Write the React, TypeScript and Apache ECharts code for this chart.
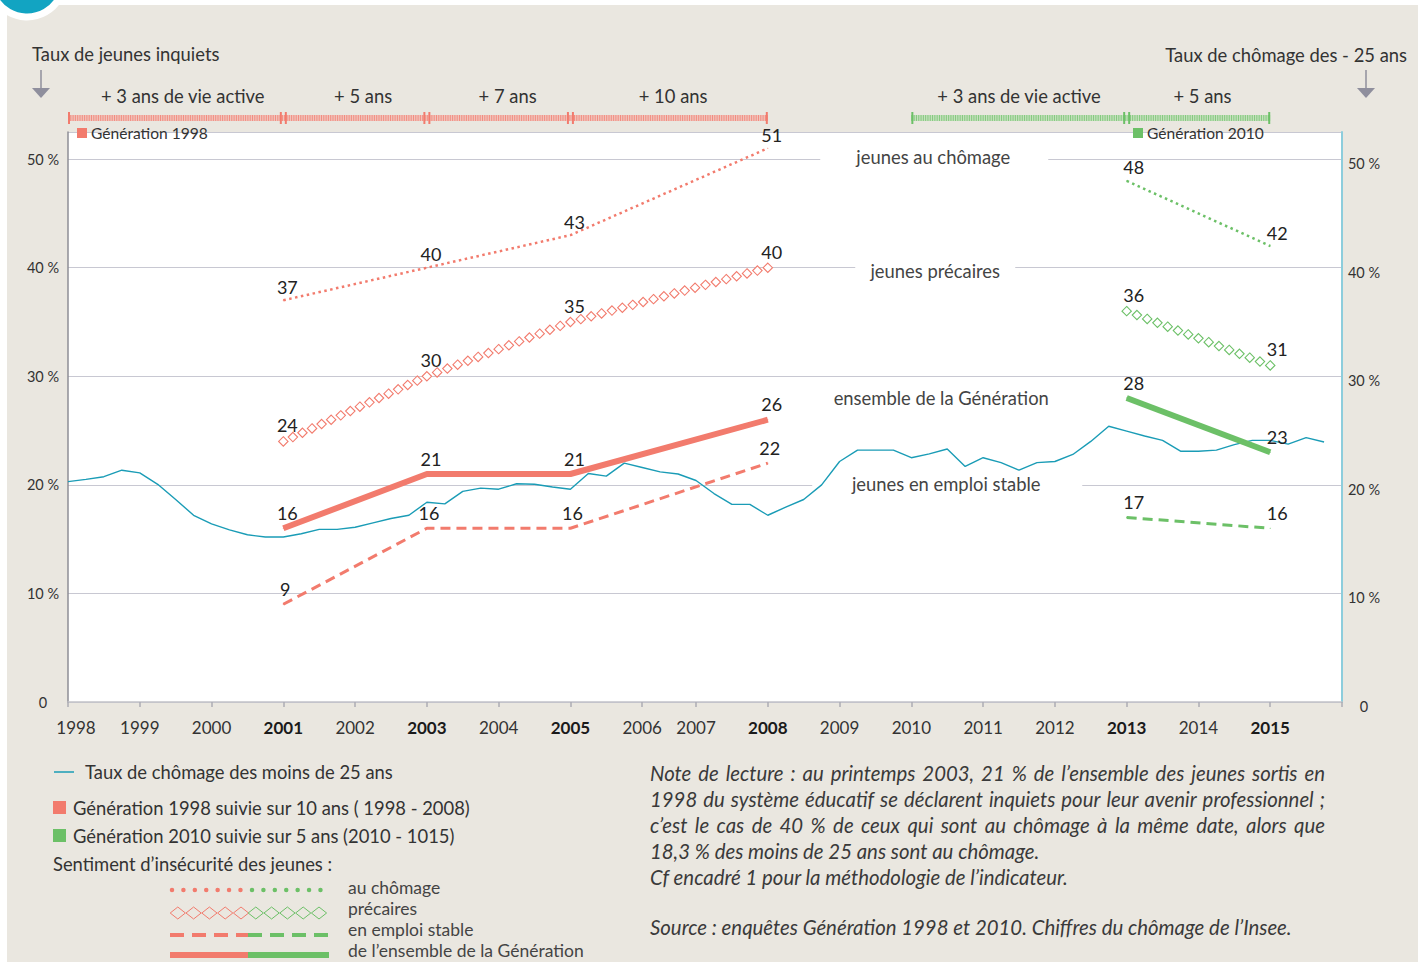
import React, { useEffect, useRef } from "react";
import * as echarts from "echarts";

// ---------- DATA ----------
const YEARS = ["1998","1999","2000","2001","2002","2003","2004","2005","2006","2007","2008","2009","2010","2011","2012","2013","2014","2015","2016"];
const QUARTERS_PER_YEAR = [4,4,4,4,4,4,4,4,3,4,4,4,4,4,4,4,4,4,1];

// Taux de chômage des moins de 25 ans (trimestriel, %)
const UNEMPLOYMENT_U25 = [
  20.3, 20.5, 20.75, 21.35,
  21.1, 20.05, 18.65, 17.2,
  16.4, 15.85, 15.4, 15.2,
  15.2, 15.5, 15.9, 15.9,
  16.1, 16.5, 16.9, 17.2,
  18.4, 18.25, 19.4, 19.7,
  19.6, 20.1, 20.05, 19.8,
  19.6, 21.05, 20.8, 22.0,
  21.6, 21.2, 21.0,
  20.4, 19.2, 18.2, 18.2,
  17.2, 17.95, 18.65, 20.0,
  22.15, 23.2, 23.2, 23.2,
  22.5, 22.85, 23.3, 21.7,
  22.5, 22.05, 21.35, 22.05,
  22.15, 22.8, 24.0, 25.4,
  24.95, 24.5, 24.1, 23.1,
  23.1, 23.2, 23.7, 24.1,
  24.1, 23.75, 24.35, 23.95,
];

const GEN1998_YEARS = ["2001", "2003", "2005", "2008"];
const GEN1998_CHOMAGE = [37, 40, 43, 51];
const GEN1998_PRECAIRES = [24, 30, 35, 40];
const GEN1998_ENSEMBLE = [16, 21, 21, 26];
const GEN1998_STABLE = [9, 16, 16, 22];

const GEN2010_YEARS = ["2013", "2015"];
const GEN2010_CHOMAGE = [48, 42];
const GEN2010_PRECAIRES = [36, 31];
const GEN2010_ENSEMBLE = [28, 23];
const GEN2010_STABLE = [17, 16];

const GEN1998_SPAN = ["1998", "2008"];
const GEN1998_STEPS = ["2001", "2003", "2005"];
const GEN1998_STEP_LABELS = ["+ 3 ans de vie active", "+ 5 ans", "+ 7 ans", "+ 10 ans"];
const GEN2010_SPAN = ["2010", "2015"];
const GEN2010_STEPS = ["2013"];
const GEN2010_STEP_LABELS = ["+ 3 ans de vie active", "+ 5 ans"];

const Y_TICKS = [0, 10, 20, 30, 40, 50];

const LINE_STYLE_LEGEND = ["au chômage", "précaires", "en emploi stable", "de l’ensemble de la Génération"];

const NOTE_LINES = [
  "Note de lecture : au printemps 2003, 21 % de l’ensemble des jeunes sortis en",
  "1998 du système éducatif se déclarent inquiets pour leur avenir professionnel ;",
  "c’est le cas de 40 % de ceux qui sont au chômage à la même date, alors que",
  "18,3 % des moins de 25 ans sont au chômage.",
  "Cf encadré 1 pour la méthodologie de l’indicateur.",
  "",
  "Source : enquêtes Génération 1998 et 2010. Chiffres du chômage de l’Insee.",
];
const NOTE_JUSTIFIED = [true, true, true, false, false, false, false];

// ---------- STYLE ----------
const RED = "#F27B6D";
const RED_LIGHT = "#F5A79E";
const GREEN = "#6CC067";
const GREEN_LIGHT = "#A9DCA4";
const BLUE = "#1A9CB6";
const TEXT = "#333333";
const FONT = 'Lato, "Noto Sans", sans-serif';

const CATEGORIES: string[] = [];
const YEAR_START: Record<string, number> = {};
YEARS.forEach((y, k) => {
  YEAR_START[y] = CATEGORIES.length;
  for (let q = 1; q <= QUARTERS_PER_YEAR[k]; q++) CATEGORIES.push(`${y} T${q}`);
});
const catOf = (y: string) => CATEGORIES[YEAR_START[y]];
const TICK_IDX = new Set(YEARS.map((y) => YEAR_START[y]));
const LABEL_IDX = new Set(YEARS.slice(0, -1).map((y) => YEAR_START[y]));
const BOLD_YEARS = new Set([...GEN1998_YEARS, ...GEN2010_YEARS]);

const pairs = (years: string[], vals: number[]) => years.map((y, i) => [catOf(y), vals[i]]);

let measureCtx: CanvasRenderingContext2D | null = null;
function textWidth(t: string, font: string) {
  if (!measureCtx) measureCtx = document.createElement("canvas").getContext("2d");
  if (!measureCtx) return t.length * 8;
  measureCtx.font = font;
  return measureCtx.measureText(t).width;
}
// font size so that `t` is `target` px wide
function fitSize(t: string, target: number, italic = false) {
  const w = textWidth(t, `${italic ? "italic " : ""}100px Lato`);
  return w > 0 ? (100 * target) / w : 18;
}

const LABEL_SIZE = 18;

function lineSeries(name: string, data: any[], color: string, width: number, dash: any, dx: number, dist: number) {
  return {
    name,
    type: "line",
    data,
    symbol: "circle",
    symbolSize: 1,
    itemStyle: { color },
    lineStyle: { color, width, type: dash, cap: "butt" },
    label: { show: true, position: "top", distance: dist, offset: [dx, 0], fontSize: LABEL_SIZE, color: "#222", fontFamily: FONT },
    z: 4,
  };
}

function diamondSeries(name: string, data: any[], color: string, dx: number) {
  const n = data.length;
  return {
    name,
    type: "custom",
    data,
    encode: { x: 0, y: 1 },
    z: 4,
    renderItem: (params: any, api: any) => {
      const i = params.dataIndexInside;
      const p0 = api.coord([api.value(0, i), api.value(1, i)]);
      const children: any[] = [];
      if (i < n - 1) {
        const p1 = api.coord([api.value(0, i + 1), api.value(1, i + 1)]);
        const dxp = p1[0] - p0[0];
        const dyp = p1[1] - p0[1];
        const L = Math.hypot(dxp, dyp);
        const steps = Math.max(1, Math.round(L / 10.6));
        const r = 4.7;
        for (let k = i === 0 ? 0 : 1; k <= steps; k++) {
          const cx = p0[0] + (dxp * k) / steps;
          const cy = p0[1] + (dyp * k) / steps;
          children.push({
            type: "polygon",
            shape: { points: [[cx, cy - r], [cx + r, cy], [cx, cy + r], [cx - r, cy]] },
            style: { fill: "#fff", stroke: color, lineWidth: 1.1 },
          });
        }
      }
      children.push({
        type: "text",
        x: p0[0] + dx,
        y: p0[1] - 7,
        style: { text: String(api.value(1, i)), fill: "#222", fontSize: LABEL_SIZE, fontFamily: FONT, align: "center", verticalAlign: "bottom" },
        z2: 10,
      });
      return { type: "group", children };
    },
  };
}

export default function App() {
  const ref = useRef<HTMLDivElement>(null);

  useEffect(() => {
    if (!ref.current) return;
    const chart = echarts.init(ref.current, null, { renderer: "svg" });

    const yLabel = (v: number) => (Y_TICKS.includes(v) ? (v === 0 ? "0" : `${v} %`) : "");

    const option: any = {
      animation: false,
      backgroundColor: "#EAE7E0",
      textStyle: { fontFamily: FONT },
      grid: {
        left: 68, right: 76, top: 132, bottom: 260,
        show: true, backgroundColor: "#ffffff", borderWidth: 0,
        containLabel: false, outerBoundsMode: "none",
      },
      xAxis: {
        type: "category",
        data: CATEGORIES,
        boundaryGap: false,
        axisLine: { show: true, lineStyle: { color: "#C2C2C8", width: 1.5 } },
        axisTick: { show: true, interval: (i: number) => TICK_IDX.has(i), length: 5, lineStyle: { color: "#ADADB4", width: 1.5 } },
        axisLabel: {
          interval: (i: number) => LABEL_IDX.has(i),
          margin: 17,
          fontSize: 17,
          color: TEXT,
          formatter: (v: string, idx: number) => {
            const y = v.slice(0, 4);
            if (idx === 0) return `{f|${y}}`;
            return BOLD_YEARS.has(y) ? `{b|${y}}` : `{n|${y}}`;
          },
          rich: {
            n: { fontSize: 17, color: TEXT, fontFamily: FONT },
            b: { fontSize: 17, color: "#1a1a1a", fontWeight: "bold", fontFamily: FONT },
            f: { fontSize: 17, color: TEXT, fontFamily: FONT, padding: [0, 0, 0, 16] },
          },
        },
        splitLine: { show: false },
      },
      yAxis: [
        {
          type: "value", min: 0, max: 52.5, interval: 10, position: "left",
          axisLine: { show: true, lineStyle: { color: "#8E8E96", width: 1.5 } },
          axisTick: { show: false },
          splitLine: { show: true, lineStyle: { color: "#C8C8D2", width: 1 } },
          axisLabel: { formatter: yLabel, align: "center", margin: 25, fontSize: 14.5, color: TEXT },
        },
        {
          type: "value", min: 0, max: 52.5, interval: 10, position: "right",
          axisLine: { show: true, lineStyle: { color: "#8DCDDC", width: 2 } },
          axisTick: { show: false },
          splitLine: { show: false },
          axisLabel: { formatter: yLabel, align: "center", verticalAlign: "top", lineHeight: 9, margin: 22, fontSize: 14.5, color: TEXT },
        },
      ],
      series: [
        { name: "Taux de chômage des moins de 25 ans", type: "line", data: UNEMPLOYMENT_U25, symbol: "none", lineStyle: { color: BLUE, width: 1.4 }, z: 3 },
        lineSeries("G1998 ensemble", pairs(GEN1998_YEARS, GEN1998_ENSEMBLE), RED, 6, "solid", 4, 6),
        lineSeries("G1998 stable", pairs(GEN1998_YEARS, GEN1998_STABLE), RED, 3, [10, 6], 2, 6),
        lineSeries("G1998 chômage", pairs(GEN1998_YEARS, GEN1998_CHOMAGE), RED, 2.5, [2.5, 3.5], 4, 4),
        diamondSeries("G1998 précaires", pairs(GEN1998_YEARS, GEN1998_PRECAIRES), RED, 4),
        lineSeries("G2010 ensemble", pairs(GEN2010_YEARS, GEN2010_ENSEMBLE), GREEN, 6, "solid", 7, 6),
        lineSeries("G2010 stable", pairs(GEN2010_YEARS, GEN2010_STABLE), GREEN, 3, [10, 6], 7, 6),
        lineSeries("G2010 chômage", pairs(GEN2010_YEARS, GEN2010_CHOMAGE), GREEN, 2.5, [2.5, 3.5], 7, 4),
        diamondSeries("G2010 précaires", pairs(GEN2010_YEARS, GEN2010_PRECAIRES), GREEN, 7),
      ],
    };
    chart.setOption(option);

    const X = (y: string) => chart.convertToPixel({ xAxisIndex: 0 } as any, catOf(y)) as unknown as number;
    const Y = (v: number) => chart.convertToPixel({ yAxisIndex: 0 } as any, v) as unknown as number;

    // text sizes matched to the reference's text widths
    const BASE = fitSize("Taux de chômage des moins de 25 ans", 308);
    const SMALL = fitSize("Génération 1998", 117);
    const NOTE = fitSize("Source : enquêtes Génération 1998 et 2010. Chiffres du chômage de l’Insee.", 642, true);
    const LEG = Math.min(BASE, 17.5);

    const g: any[] = [];
    // white page margins
    g.push({ type: "rect", shape: { x: 0, y: 0, width: 7, height: 962 }, style: { fill: "#fff" }, z: 0 });
    g.push({ type: "rect", shape: { x: 0, y: 0, width: 1418, height: 5 }, style: { fill: "#fff" }, z: 0 });
    // corner badge
    g.push({ type: "circle", shape: { cx: 27, cy: -20, r: 37 }, style: { fill: "#12A4C2", stroke: "#fff", lineWidth: 7 }, z: 20 });

    const txt = (text: string, x: number, y: number, size: number, align = "left", extra: any = {}) => ({
      type: "text", x, y, z: 10,
      style: { text, fill: TEXT, fontSize: size, fontFamily: FONT, align, verticalAlign: "middle", ...extra },
    });

    // headers
    g.push(txt("Taux de jeunes inquiets", 32, 54, BASE));
    g.push(txt("Taux de chômage des - 25 ans", 1407, 55, BASE, "right"));
    const arrow = (x: number) => {
      g.push({ type: "line", shape: { x1: x, y1: 70, x2: x, y2: 89 }, style: { stroke: "#8F8F9D", lineWidth: 1.5 }, z: 10 });
      g.push({ type: "polygon", shape: { points: [[x - 9, 88], [x + 9, 88], [x, 98]] }, style: { fill: "#8F8F9D" }, z: 10 });
    };
    arrow(41);
    arrow(1366);

    // period bands
    const band = (span: string[], steps: string[], labels: string[], color: string, light: string, dxs: number[]) => {
      const x0 = X(span[0]);
      const x1 = X(span[1]);
      const yb = 118;
      g.push({ type: "rect", shape: { x: x0, y: yb - 3, width: x1 - x0, height: 6 }, style: { fill: light, opacity: 0.55 }, z: 10 });
      g.push({ type: "line", shape: { x1: x0, y1: yb, x2: x1, y2: yb }, style: { stroke: color, lineWidth: 6, lineDash: [1, 1.3], opacity: 0.75 }, z: 11 });
      const tick = (x: number) => g.push({ type: "rect", shape: { x: x - 1, y: yb - 6, width: 2, height: 12 }, style: { fill: color }, z: 12 });
      tick(x0 + 1);
      tick(x1 - 1);
      steps.forEach((s) => { const xs = X(s); tick(xs - 2.5); tick(xs + 2.5); });
      const bounds = [x0, ...steps.map(X), x1];
      labels.forEach((l, i) => {
        g.push(txt(l, (bounds[i] + bounds[i + 1]) / 2 + dxs[i], 96, BASE, "center"));
      });
    };
    band(GEN1998_SPAN, GEN1998_STEPS, GEN1998_STEP_LABELS, RED, RED_LIGHT, [7, 8, 9, 4]);
    band(GEN2010_SPAN, GEN2010_STEPS, GEN2010_STEP_LABELS, GREEN, GREEN_LIGHT, [0, 4]);

    // generation tags
    g.push({ type: "rect", shape: { x: 77, y: 128, width: 10, height: 10 }, style: { fill: RED }, z: 12 });
    g.push(txt("Génération 1998", 91, 133, SMALL));
    g.push({ type: "rect", shape: { x: 1133, y: 128, width: 10, height: 10 }, style: { fill: GREEN }, z: 12 });
    g.push(txt("Génération 2010", 1147, 133, SMALL));

    // inline labels with white gaps over gridlines
    const mid = (X("2008") + X("2013")) / 2;
    const inline = (text: string, cx: number, y: number, gapW: number | null, gapCx: number) => {
      if (gapW) g.push({ type: "rect", shape: { x: gapCx - gapW / 2, y: y - 9, width: gapW, height: 18 }, style: { fill: "#fff" }, z: 1 });
      g.push({ ...txt(text, cx, y, BASE, "center", { fill: "#444" }), z: 1 });
    };
    inline("jeunes au chômage", mid - 14, Y(50) - 2, 228, mid - 13);
    inline("jeunes précaires", mid - 12, Y(40) + 3, 160, mid - 12);
    inline("ensemble de la Génération", mid - 6, Y(30) + 22, null, 0);
    inline("jeunes en emploi stable", mid - 1, Y(20) - 1, 270, mid);

    // legend
    g.push({ type: "line", shape: { x1: 54, y1: 772, x2: 74, y2: 772 }, style: { stroke: BLUE, lineWidth: 1.5 }, z: 10 });
    g.push(txt("Taux de chômage des moins de 25 ans", 85, 772, BASE));
    g.push({ type: "rect", shape: { x: 53, y: 801, width: 13, height: 13 }, style: { fill: RED }, z: 10 });
    g.push(txt("Génération 1998 suivie sur 10 ans ( 1998 - 2008)", 73, 808, BASE));
    g.push({ type: "rect", shape: { x: 53, y: 829, width: 13, height: 13 }, style: { fill: GREEN }, z: 10 });
    g.push(txt("Génération 2010 suivie sur 5 ans (2010 - 1015)", 73, 836, BASE));
    g.push(txt("Sentiment d’insécurité des jeunes :", 53, 864, BASE));

    const lx0 = 170, lxm = 248, lx1 = 329;
    // dotted
    [[lx0, lxm, RED], [lxm + 2, lx1, GREEN]].forEach(([a, b, c]: any) => {
      g.push({ type: "line", shape: { x1: a + 2, y1: 890, x2: b, y2: 890 }, style: { stroke: c, lineWidth: 4.5, lineDash: [0.01, 11.4], lineCap: "round" }, z: 10 });
    });
    // diamonds
    [[lx0, RED], [lxm, GREEN]].forEach(([a, c]: any) => {
      for (let k = 0; k < 5; k++) {
        const cx = a + 7.8 + k * 15.8;
        g.push({ type: "polygon", shape: { points: [[cx, 907], [cx + 7.6, 913], [cx, 919], [cx - 7.6, 913]] }, style: { fill: "none", stroke: c, lineWidth: 1 }, z: 10 });
      }
    });
    // dashed
    g.push({ type: "line", shape: { x1: lx0, y1: 935, x2: lxm, y2: 935 }, style: { stroke: RED, lineWidth: 4, lineDash: [14, 8] }, z: 10 });
    g.push({ type: "line", shape: { x1: lxm, y1: 935, x2: lx1, y2: 935 }, style: { stroke: GREEN, lineWidth: 4, lineDash: [14, 8] }, z: 10 });
    // thick
    g.push({ type: "line", shape: { x1: lx0, y1: 955, x2: lxm, y2: 955 }, style: { stroke: RED, lineWidth: 6 }, z: 10 });
    g.push({ type: "line", shape: { x1: lxm, y1: 955, x2: lx1, y2: 955 }, style: { stroke: GREEN, lineWidth: 6 }, z: 10 });
    const legY = [887, 908, 929, 950];
    LINE_STYLE_LEGEND.forEach((t, i) => g.push(txt(t, 348, legY[i], LEG, "left", { fill: "#444" })));

    // note (justified italic block)
    const noteFont = `italic ${NOTE}px Lato`;
    const nx0 = 650, nx1 = 1325;
    const noteY = [773, 799, 825, 851, 877, 902, 927];
    NOTE_LINES.forEach((line, i) => {
      if (!line) return;
      const style = { fontStyle: "italic", fill: "#3a3a3a" };
      if (NOTE_JUSTIFIED[i]) {
        const words = line.split(" ");
        const widths = words.map((w) => textWidth(w, noteFont));
        const total = widths.reduce((a, b) => a + b, 0);
        const gap = (nx1 - nx0 - total) / (words.length - 1);
        let x = nx0;
        words.forEach((w, k) => {
          g.push(txt(w, x, noteY[i], NOTE, "left", style));
          x += widths[k] + gap;
        });
      } else {
        g.push(txt(line, nx0, noteY[i], NOTE, "left", style));
      }
    });

    chart.setOption({ graphic: { elements: g } });

    return () => chart.dispose();
  }, []);

  return <div ref={ref} style={{ position: "absolute", left: 0, top: 0, width: 1418, height: 962 }} />;
}
